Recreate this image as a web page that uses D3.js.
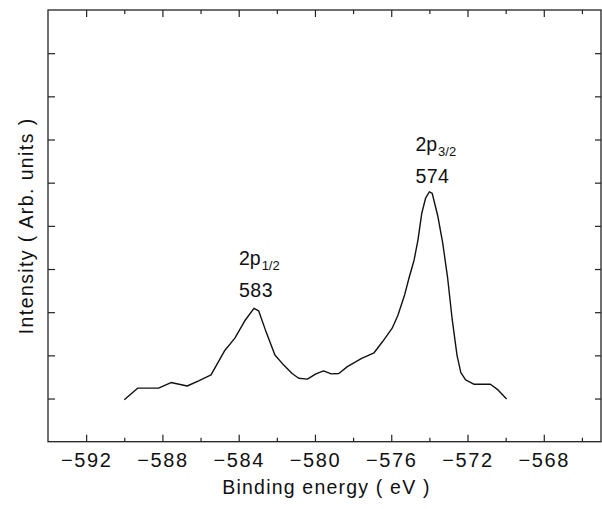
<!DOCTYPE html>
<html>
<head>
<meta charset="utf-8">
<script src="https://cdn.jsdelivr.net/npm/d3@7"></script>
<style>
  body { margin: 0; background: #fff; }
  text { font-family: "Liberation Sans", Arial, sans-serif; fill: #111; }
</style>
</head>
<body>
<script>
// binding energy (eV) and intensity
const energy = [
  -590.0, -589.3, -588.2, -587.55, -586.7, -586.1, -585.45, -584.75, -584.2, -583.65,
  -583.2, -582.95, -582.6, -582.1, -581.65, -581.2, -580.85, -580.4, -579.95, -579.55,
  -579.15, -578.75, -578.3, -577.55, -576.9, -576.45, -575.95, -575.65, -575.3, -575.05,
  -574.8, -574.6, -574.4, -574.2, -574.0, -573.85, -573.55, -573.3, -573.05, -572.8,
  -572.55, -572.35, -572.1, -571.65, -570.8, -570.4, -569.95
];
const intensity = [
  0.97, 1.24, 1.24, 1.37, 1.29, 1.41, 1.55, 2.10, 2.40, 2.82,
  3.09, 3.03, 2.59, 2.01, 1.78, 1.58, 1.47, 1.45, 1.57, 1.64,
  1.57, 1.58, 1.74, 1.93, 2.06, 2.32, 2.63, 2.93, 3.40, 3.82,
  4.21, 4.67, 5.29, 5.64, 5.79, 5.75, 5.21, 4.60, 3.82, 2.82,
  2.00, 1.60, 1.43, 1.33, 1.33, 1.20, 0.99
];
const xMajor = [-592, -588, -584, -580, -576, -572, -568];
const xMinor = [-590, -586, -582, -578, -574, -570, -566];
const yTicks = [1, 2, 3, 4, 5, 6, 7, 8, 9];
const peakE = [-583.2, -574.0];
const peakSub = ["1/2", "3/2"];
const peakVal = ["583", "574"];

const w = 602, h = 509;
const mLeft = 48, mRight = 601, mTop = 10, mBottom = 441.7;

const svg = d3.select("body").append("svg")
  .attr("width", w).attr("height", h);

const x = d3.scaleLinear().domain([-594, -565]).range([mLeft, mRight]);
const y = d3.scaleLinear().domain([0, 10]).range([mBottom, mTop]);

// frame
svg.append("rect")
  .attr("x", mLeft).attr("y", mTop)
  .attr("width", mRight - mLeft).attr("height", mBottom - mTop)
  .attr("fill", "none").attr("stroke", "#222").attr("stroke-width", 1.3);

const noLabel = () => "";
const fmt = d => "\u2212" + Math.abs(d);

const bx = svg.append("g").attr("transform", `translate(0,${mBottom})`)
  .call(d3.axisBottom(x).tickValues(xMajor).tickSizeInner(-7).tickSizeOuter(0)
    .tickPadding(11).tickFormat(fmt));
svg.append("g").attr("transform", `translate(0,${mBottom})`)
  .call(d3.axisBottom(x).tickValues(xMinor).tickSizeInner(-4).tickSizeOuter(0).tickFormat(noLabel));
svg.append("g").attr("transform", `translate(0,${mTop})`)
  .call(d3.axisTop(x).tickValues(xMajor).tickSizeInner(-7).tickSizeOuter(0).tickFormat(noLabel));
svg.append("g").attr("transform", `translate(0,${mTop})`)
  .call(d3.axisTop(x).tickValues(xMinor).tickSizeInner(-4).tickSizeOuter(0).tickFormat(noLabel));
svg.append("g").attr("transform", `translate(${mLeft},0)`)
  .call(d3.axisLeft(y).tickValues(yTicks).tickSizeInner(-7).tickSizeOuter(0).tickFormat(noLabel));
svg.append("g").attr("transform", `translate(${mRight},0)`)
  .call(d3.axisRight(y).tickValues(yTicks).tickSizeInner(-6).tickSizeOuter(0).tickFormat(noLabel));

svg.selectAll(".domain").remove();
svg.selectAll(".tick line").attr("stroke", "#222").attr("stroke-width", 1.2);
bx.selectAll("text").attr("font-size", 20).attr("fill", "#111")
  .attr("font-family", "Liberation Sans, Arial, sans-serif")
  .style("letter-spacing", "1.6px");

// spectrum
const line = d3.line().x((d, i) => x(energy[i])).y(d => y(d));
svg.append("path").datum(intensity)
  .attr("d", line)
  .attr("fill", "none").attr("stroke", "#111").attr("stroke-width", 1.4)
  .attr("stroke-linejoin", "round");

// peak labels
peakE.forEach((e, i) => {
  const k = energy.indexOf(e);
  const px = x(e), py = y(intensity[k]);
  const dx = i === 0 ? -15 : -14;
  const dy = i === 0 ? 11 : 8.5;
  svg.append("text").attr("x", px + dx).attr("y", py - dy)
    .attr("font-size", 19.5).style("letter-spacing", "0.5px").text(peakVal[i]);
  const t = svg.append("text").attr("x", px + dx).attr("y", py - dy - 32)
    .attr("font-size", 19.5).text("2p");
  t.append("tspan").attr("font-size", 13).attr("dy", 5).attr("dx", 1).text(peakSub[i]);
});

// axis titles
svg.append("text")
  .attr("x", (mLeft + mRight) / 2 + 2).attr("y", 494)
  .attr("text-anchor", "middle").attr("font-size", 19.5)
  .style("letter-spacing", "1.2px")
  .text("Binding energy ( eV )");
svg.append("text")
  .attr("transform", `translate(33,${(mTop + mBottom) / 2}) rotate(-90)`)
  .attr("text-anchor", "middle").attr("font-size", 19.5)
  .style("letter-spacing", "1.4px")
  .text("Intensity ( Arb. units )");
</script>
</body>
</html>
